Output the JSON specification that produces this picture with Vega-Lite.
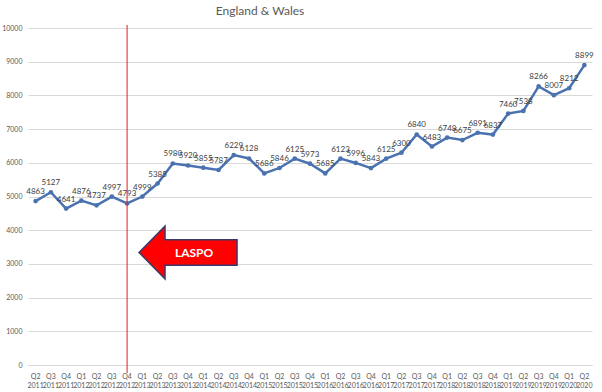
{
  "$schema": "https://vega.github.io/schema/vega-lite/v6.json",
  "width": 564,
  "height": 337,
  "autosize": "none",
  "padding": {"left": 28, "top": 28, "right": 10, "bottom": 27},
  "background": "white",
  "title": {"text": "England & Wales", "fontSize": 12, "font": "Lato", "fontWeight": "normal", "color": "#595959", "offset": 6, "dx": -50},
  "config": {"view": {"stroke": null}, "font": "Lato"},
  "datasets": {
    "main": [
      {"q": "Q2 2011", "v": 4863}, {"q": "Q3 2011", "v": 5127}, {"q": "Q4 2011", "v": 4641},
      {"q": "Q1 2012", "v": 4876}, {"q": "Q2 2012", "v": 4737}, {"q": "Q3 2012", "v": 4997}, {"q": "Q4 2012", "v": 4793},
      {"q": "Q1 2013", "v": 4999}, {"q": "Q2 2013", "v": 5385}, {"q": "Q3 2013", "v": 5980}, {"q": "Q4 2013", "v": 5920},
      {"q": "Q1 2014", "v": 5855}, {"q": "Q2 2014", "v": 5787}, {"q": "Q3 2014", "v": 6229}, {"q": "Q4 2014", "v": 6128},
      {"q": "Q1 2015", "v": 5686}, {"q": "Q2 2015", "v": 5846}, {"q": "Q3 2015", "v": 6125}, {"q": "Q4 2015", "v": 5973},
      {"q": "Q1 2016", "v": 5685}, {"q": "Q2 2016", "v": 6123}, {"q": "Q3 2016", "v": 5996}, {"q": "Q4 2016", "v": 5843},
      {"q": "Q1 2017", "v": 6125}, {"q": "Q2 2017", "v": 6300}, {"q": "Q3 2017", "v": 6840}, {"q": "Q4 2017", "v": 6483},
      {"q": "Q1 2018", "v": 6748}, {"q": "Q2 2018", "v": 6675}, {"q": "Q3 2018", "v": 6891}, {"q": "Q4 2018", "v": 6837},
      {"q": "Q1 2019", "v": 7460}, {"q": "Q2 2019", "v": 7538}, {"q": "Q3 2019", "v": 8266}, {"q": "Q4 2019", "v": 8007},
      {"q": "Q1 2020", "v": 8212}, {"q": "Q2 2020", "v": 8899}
    ],
    "marker": [{"q": "Q4 2012"}],
    "arrow": [{"q": "Q4 2013", "v": 3340, "t": "LASPO"}]
  },
  "data": {"name": "main"},
  "encoding": {
    "x": {"field": "q", "type": "ordinal", "sort": null,
      "scale": {"paddingInner": 0, "paddingOuter": 0},
      "axis": {"title": null, "labelAngle": 0, "ticks": false, "domain": true, "domainColor": "#d9d9d9",
        "labelExpr": "split(datum.label, ' ')", "labelFontSize": 7, "labelColor": "#595959", "labelPadding": 7, "labelLineHeight": 9, "labelOverlap": false}},
    "y": {"field": "v", "type": "quantitative",
      "scale": {"domain": [0, 10000], "nice": false},
      "axis": {"title": null, "values": [0,1000,2000,3000,4000,5000,6000,7000,8000,9000,10000], "format": "d",
        "domain": false, "ticks": false, "gridColor": "#d9d9d9", "labelFontSize": 7, "labelColor": "#595959", "labelPadding": 6}}
  },
  "layer": [
    {"mark": {"type": "line", "color": "#4a72b0", "strokeWidth": 2.5}},
    {"mark": {"type": "point", "filled": true, "color": "#4a72b0", "size": 22, "opacity": 1}},
    {"mark": {"type": "text", "dy": -9, "fontSize": 8, "color": "#404040"}, "encoding": {"text": {"field": "v", "type": "quantitative"}}},
    {"data": {"name": "marker"}, "mark": {"type": "rule", "color": "#e02020", "strokeWidth": 1}, "encoding": {"x": {"field": "q", "type": "ordinal"}, "y": {"value": -3}, "y2": {"value": 345}}},
    {"data": {"name": "arrow"}, "mark": {"type": "point", "filled": true, "fill": "#ff0000", "stroke": "#3a3a6a", "strokeWidth": 1.5, "opacity": 1, "size": 9604,
      "shape": "M -1 0 L -0.47 -0.54 L -0.47 -0.26 L 1 -0.26 L 1 0.26 L -0.47 0.26 L -0.47 0.54 Z"},
      "encoding": {"x": {"field": "q", "type": "ordinal"}, "y": {"field": "v", "type": "quantitative"}}},
    {"data": {"name": "arrow"}, "mark": {"type": "text", "color": "white", "fontWeight": "bold", "fontSize": 12, "dx": 6, "dy": 1},
      "encoding": {"x": {"field": "q", "type": "ordinal"}, "y": {"field": "v", "type": "quantitative"}, "text": {"field": "t"}}}
  ]
}
